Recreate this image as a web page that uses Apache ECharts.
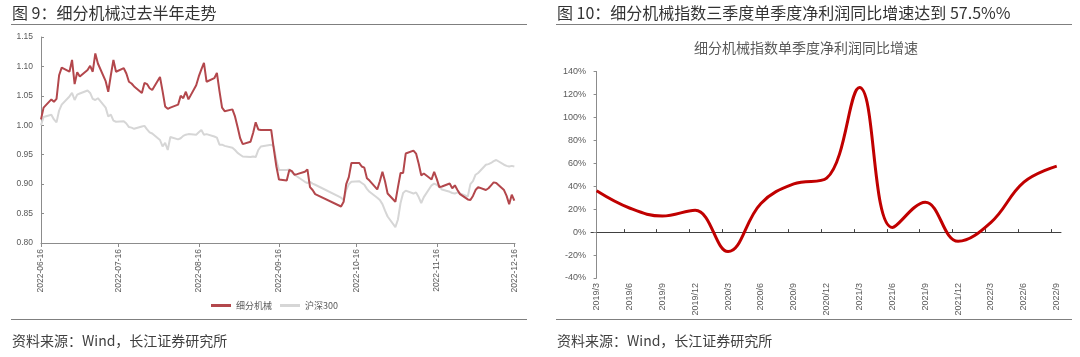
<!DOCTYPE html>
<html><head><meta charset="utf-8">
<script src="https://cdn.jsdelivr.net/npm/echarts@6/dist/echarts.min.js"></script>
<style>html,body{margin:0;padding:0;background:#fff}#c{width:1080px;height:357px}</style>
</head><body><div id="c"></div>
<script>
// ---------- Left chart data (trading days) ----------
const tradeDates = [
'2022-06-16','2022-06-17','2022-06-20','2022-06-21','2022-06-22','2022-06-23','2022-06-24','2022-06-27','2022-06-28','2022-06-29','2022-06-30',
'2022-07-01','2022-07-04','2022-07-05','2022-07-06','2022-07-07','2022-07-08','2022-07-11','2022-07-12','2022-07-13','2022-07-14','2022-07-15','2022-07-18','2022-07-19','2022-07-20','2022-07-21','2022-07-22','2022-07-25','2022-07-26','2022-07-27','2022-07-28','2022-07-29',
'2022-08-01','2022-08-02','2022-08-03','2022-08-04','2022-08-05','2022-08-08','2022-08-09','2022-08-10','2022-08-11','2022-08-12','2022-08-15','2022-08-16','2022-08-17','2022-08-18','2022-08-19','2022-08-22','2022-08-23','2022-08-24','2022-08-25','2022-08-26','2022-08-29','2022-08-30','2022-08-31',
'2022-09-01','2022-09-02','2022-09-05','2022-09-06','2022-09-07','2022-09-08','2022-09-09','2022-09-13','2022-09-14','2022-09-15','2022-09-16','2022-09-19','2022-09-20','2022-09-21','2022-09-22','2022-09-23','2022-09-26','2022-09-27','2022-09-28','2022-09-29','2022-09-30',
'2022-10-10','2022-10-11','2022-10-12','2022-10-13','2022-10-14','2022-10-17','2022-10-18','2022-10-19','2022-10-20','2022-10-21','2022-10-24','2022-10-25','2022-10-26','2022-10-27','2022-10-28','2022-10-31',
'2022-11-01','2022-11-02','2022-11-03','2022-11-04','2022-11-07','2022-11-08','2022-11-09','2022-11-10','2022-11-11','2022-11-14','2022-11-15','2022-11-16','2022-11-17','2022-11-18','2022-11-21','2022-11-22','2022-11-23','2022-11-24','2022-11-25','2022-11-28','2022-11-29','2022-11-30',
'2022-12-01','2022-12-02','2022-12-05','2022-12-06','2022-12-07','2022-12-08','2022-12-09','2022-12-12','2022-12-13','2022-12-14','2022-12-15','2022-12-16'
];
const machineryIdx = [
1.010,1.030,1.044,1.040,1.045,1.085,1.098,1.091,1.111,1.070,1.090,
1.083,1.094,1.101,1.091,1.122,1.105,1.075,1.057,1.085,1.111,1.091,1.097,1.088,1.074,1.071,1.066,1.055,1.072,1.070,1.063,1.060,
1.082,1.058,1.032,1.028,1.030,1.035,1.050,1.046,1.057,1.044,1.068,1.083,1.095,1.106,1.074,1.080,1.089,1.058,1.030,1.024,1.027,1.015,0.997,
0.978,0.968,0.972,0.987,1.005,0.993,0.992,0.992,0.960,0.930,0.908,0.906,0.924,0.922,0.916,0.917,0.921,0.925,0.895,0.890,0.883,
0.862,0.870,0.900,0.912,0.936,0.936,0.930,0.928,0.910,0.906,0.891,0.905,0.921,0.905,0.884,0.870,
0.895,0.919,0.919,0.952,0.957,0.952,0.935,0.915,0.918,0.908,0.921,0.909,0.895,0.896,0.901,0.893,0.898,0.890,0.883,0.874,0.873,0.880,
0.890,0.895,0.890,0.893,0.898,0.903,0.902,0.890,0.880,0.866,0.882,0.872
];
const hs300Idx = [
1.000,1.014,1.018,1.010,1.005,1.025,1.035,1.049,1.055,1.043,1.052,
1.054,1.059,1.055,1.045,1.043,1.046,1.030,1.015,1.018,1.008,1.006,1.007,1.003,0.997,0.996,0.994,0.998,0.999,0.993,0.988,0.986,
0.975,0.964,0.970,0.958,0.980,0.976,0.978,0.982,0.984,0.985,0.984,0.988,0.992,0.984,0.985,0.981,0.979,0.967,0.967,0.965,0.962,0.958,0.953,
0.950,0.947,0.946,0.947,0.946,0.958,0.964,0.967,0.964,0.940,0.924,0.924,0.925,0.920,0.916,0.913,0.904,0.902,0.904,0.901,0.899,
0.877,0.873,0.890,0.900,0.904,0.905,0.902,0.899,0.892,0.887,0.877,0.873,0.866,0.855,0.845,0.827,
0.840,0.868,0.885,0.889,0.884,0.886,0.878,0.868,0.878,0.898,0.901,0.899,0.895,0.891,0.887,0.885,0.884,0.886,0.884,0.879,0.900,0.905,
0.916,0.919,0.933,0.934,0.936,0.939,0.941,0.933,0.931,0.930,0.931,0.930
];
const leftTickLabels = ['2022-06-16','2022-07-16','2022-08-16','2022-09-16','2022-10-16','2022-11-16','2022-12-16'];

// ---------- Right chart data ----------
const quarters = ['2019/3','2019/6','2019/9','2019/12','2020/3','2020/6','2020/9','2020/12','2021/3','2021/6','2021/9','2021/12','2022/3','2022/6','2022/9'];
const profitGrowth = [36, 21, 14, 19, -17, 25, 42, 47, 126, 4, 26, -8, 8.5, 43.5, 57.5];

const NUMF = '"Liberation Sans", "Noto Sans CJK SC", sans-serif';
const CJKF = '"Noto Sans CJK SC", "Liberation Sans", sans-serif';
const pad = n => (n < 10 ? '0' : '') + n;
const toTs = s => { const p = s.split('-'); return Date.UTC(+p[0], +p[1] - 1, +p[2]); };
const fmtDate = v => { const d = new Date(Math.round(v)); return d.getUTCFullYear() + '-' + pad(d.getUTCMonth() + 1) + '-' + pad(d.getUTCDate()); };
const leftTickTs = leftTickLabels.map(toTs);
const rightTickPos = quarters.slice(1).map((q, i) => i + 1 - 0.17);

const chart = echarts.init(document.getElementById('c'));
chart.setOption({
  animation: false,
  textStyle: { fontFamily: NUMF },
  legend: {
    data: ['细分机械', '沪深300'], left: 211, top: 301, padding: 0,
    icon: 'rect', itemWidth: 20, itemHeight: 3, itemGap: 8,
    textStyle: { fontSize: 9, color: '#595959', fontFamily: CJKF }
  },
  grid: [
    { left: 41, top: 37, width: 474, height: 206 },
    { left: 591, top: 71.5, width: 470, height: 206.5 },
    { left: 591, top: 71.5, width: 470, height: 206.5 }
  ],
  xAxis: [
    { type: 'value', gridIndex: 0, min: toTs('2022-06-16'), max: toTs('2022-12-16') + 0.25 * 86400000,
      axisLine: { lineStyle: { color: '#8c8c8c', width: 1 } },
      axisTick: { show: true, customValues: leftTickTs, length: 4, lineStyle: { color: '#8c8c8c' } },
      axisLabel: { customValues: leftTickTs, formatter: fmtDate, rotate: 90, fontSize: 8.5, color: '#595959', margin: 6 },
      splitLine: { show: false } },
    { type: 'value', gridIndex: 1, min: -0.17, max: 14.13,
      axisLine: { show: false, onZero: false }, axisTick: { show: false }, splitLine: { show: false },
      axisLabel: { customValues: quarters.map((q, i) => i), formatter: v => quarters[Math.round(v)], rotate: 90, fontSize: 9, color: '#595959', margin: 5 } },
    { type: 'value', gridIndex: 2, min: -0.17, max: 14.13,
      axisLine: { show: true, onZero: true, lineStyle: { color: '#404040', width: 1 } },
      axisTick: { show: true, customValues: rightTickPos, inside: true, length: 3, lineStyle: { color: '#404040' } },
      axisLabel: { show: false }, splitLine: { show: false } }
  ],
  yAxis: [
    { type: 'value', gridIndex: 0, min: 0.8, max: 1.15, interval: 0.05,
      axisLine: { show: true, lineStyle: { color: '#8c8c8c' } },
      axisTick: { show: true, inside: true, length: 3, lineStyle: { color: '#8c8c8c' } },
      axisLabel: { formatter: v => v.toFixed(2), fontSize: 8.5, color: '#595959', margin: 8 },
      splitLine: { show: false } },
    { type: 'value', gridIndex: 1, min: -40, max: 140, interval: 20,
      axisLine: { show: true, lineStyle: { color: '#8c8c8c' } },
      axisTick: { show: true, length: 3, lineStyle: { color: '#8c8c8c' } },
      axisLabel: { formatter: '{value}%', fontSize: 9, color: '#595959', margin: 5 },
      splitLine: { show: false } },
    { type: 'value', gridIndex: 2, min: -40, max: 140, interval: 20,
      axisLine: { show: false }, axisTick: { show: false }, axisLabel: { show: false }, splitLine: { show: false } }
  ],
  series: [
    { name: '沪深300', type: 'line', xAxisIndex: 0, yAxisIndex: 0,
      data: tradeDates.map((d, i) => [toTs(d), hs300Idx[i]]),
      showSymbol: false, lineStyle: { color: '#D6D6D6', width: 2 }, itemStyle: { color: '#D6D6D6' } },
    { name: '细分机械', type: 'line', xAxisIndex: 0, yAxisIndex: 0,
      data: tradeDates.map((d, i) => [toTs(d), machineryIdx[i]]),
      showSymbol: false, lineStyle: { color: '#B3474C', width: 2 }, itemStyle: { color: '#B3474C' } },
    { name: '净利润同比增速', type: 'line', xAxisIndex: 1, yAxisIndex: 1,
      data: profitGrowth.map((v, i) => [i, v]), smooth: 0.4,
      showSymbol: false, lineStyle: { color: '#C00000', width: 3 }, itemStyle: { color: '#C00000' } }
  ],
  graphic: [
    { type: 'text', x: 12, y: 12.5, style: { text: '图 9：细分机械过去半年走势', font: '16px ' + CJKF, fill: '#333333', verticalAlign: 'middle' } },
    { type: 'text', x: 557, y: 12.5, style: { text: '图 10：细分机械指数三季度单季度净利润同比增速达到 57.5%%', font: '16px ' + CJKF, fill: '#333333', verticalAlign: 'middle' } },
    { type: 'line', shape: { x1: 11, y1: 24.5, x2: 527, y2: 24.5 }, style: { stroke: '#7f7f7f', lineWidth: 1.2 } },
    { type: 'line', shape: { x1: 556, y1: 24.5, x2: 1072, y2: 24.5 }, style: { stroke: '#7f7f7f', lineWidth: 1.2 } },
    { type: 'line', shape: { x1: 11, y1: 319.5, x2: 527, y2: 319.5 }, style: { stroke: '#7f7f7f', lineWidth: 1.2 } },
    { type: 'line', shape: { x1: 556, y1: 319.5, x2: 1072, y2: 319.5 }, style: { stroke: '#7f7f7f', lineWidth: 1.2 } },
    { type: 'text', x: 806, y: 47.5, style: { text: '细分机械指数单季度净利润同比增速', font: '14px ' + CJKF, fill: '#595959', align: 'center', verticalAlign: 'middle' } },
    { type: 'text', x: 12, y: 340.5, style: { text: '资料来源：Wind，长江证券研究所', font: '14px ' + CJKF, fill: '#404040', verticalAlign: 'middle' } },
    { type: 'text', x: 557, y: 340.5, style: { text: '资料来源：Wind，长江证券研究所', font: '14px ' + CJKF, fill: '#404040', verticalAlign: 'middle' } }
  ]
});
</script>
</body></html>
